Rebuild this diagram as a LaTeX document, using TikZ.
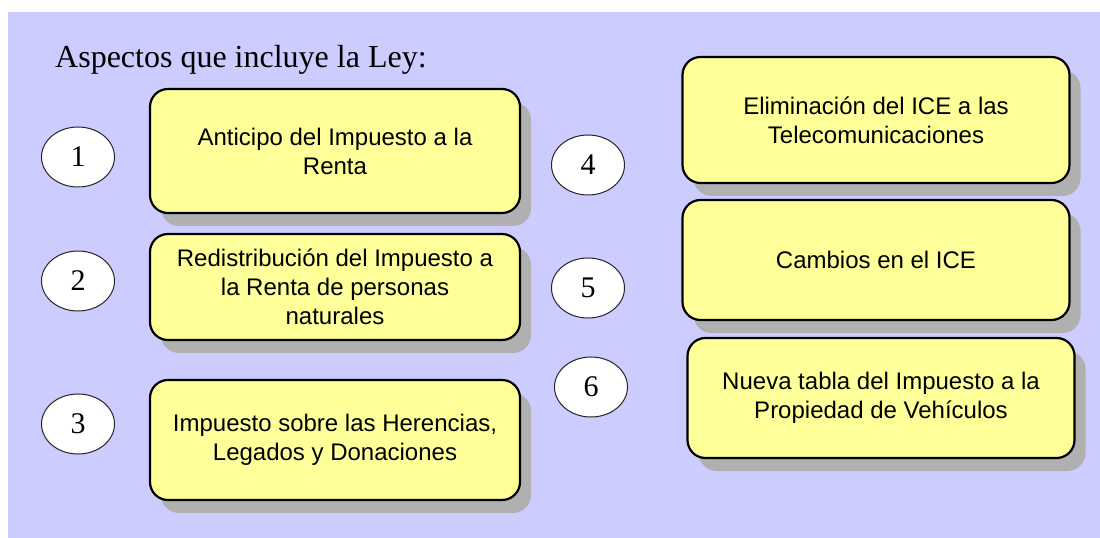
\documentclass[tikz,border=0pt]{standalone}
\usepackage{fontspec}
\setmainfont{Liberation Serif}
\newfontfamily\arialfam{Liberation Sans}
\usetikzlibrary{shapes.geometric,shadows}
\definecolor{fondo}{HTML}{CCCCFF}
\definecolor{amarillo}{HTML}{FFFF99}
\definecolor{sombra}{HTML}{B0B0B0}

\begin{document}
\begin{tikzpicture}[
  x=1bp, y=-1bp,
  num/.style={ellipse, draw=black!85, fill=white, line width=1bp,
    minimum width=73bp, minimum height=60bp, inner sep=0pt,
    font=\fontsize{30bp}{30bp}\selectfont},
  caja/.style={draw, line width=2.2bp, rounded corners=18bp, fill=amarillo,
    align=center, inner sep=0pt, font=\arialfam\fontsize{24bp}{29bp}\selectfont,
    drop shadow={shadow xshift=11bp, shadow yshift=-13bp, fill=sombra, opacity=1}},
  izq/.style={caja, minimum width=370bp},
  der/.style={caja, minimum width=387bp}
]
\useasboundingbox (0,0) rectangle (1100,538);
\fill[fondo] (8,12) rectangle (1100,538);

% Título
\node[anchor=base west, inner sep=0pt, font=\fontsize{32bp}{32bp}\selectfont] (titulo) at (55,68) {Aspectos que incluye la Ley:};

% Columna izquierda
\node[num] (n1) at (78,157) {1};
\node[num] (n2) at (78,281) {2};
\node[num] (n3) at (78,424) {3};
\node[izq, minimum height=124bp] (anticipo) at (335,151) {Anticipo del Impuesto a la\\Renta};
\node[izq, minimum height=106bp] (redis) at (335,287) {Redistribución del Impuesto a\\la Renta de personas\\naturales};
\node[izq, minimum height=120bp] (herencias) at (335,440) {Impuesto sobre las Herencias,\\Legados y Donaciones};

% Columna derecha
\node[num] (n4) at (588,165) {4};
\node[num] (n5) at (588,288) {5};
\node[num] (n6) at (591,387) {6};
\node[der, minimum height=126bp] (elim) at (876,120) {Eliminación del ICE a las\\Telecomunicaciones};
\node[der, minimum height=120bp] (cambios) at (876,260) {Cambios en el ICE};
\node[der, minimum height=120bp] (tabla) at (881,398) {Nueva tabla del Impuesto a la\\Propiedad de Vehículos};

\end{tikzpicture}
\end{document}
